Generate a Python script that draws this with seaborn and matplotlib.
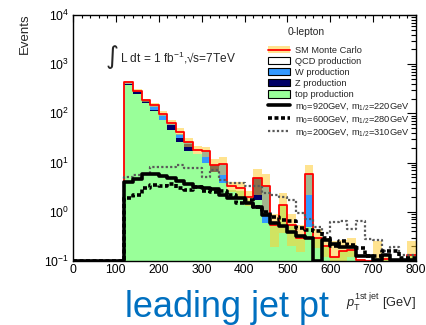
import numpy as np
import pandas as pd
import seaborn as sns
import matplotlib.pyplot as plt
from matplotlib.patches import Patch
from matplotlib.lines import Line2D
from matplotlib.ticker import MultipleLocator, LogLocator, NullFormatter


#--------------------------------   Data (events per 20 GeV bin)   --------------------------------

# SM backgrounds, bins from 120 to 800 GeV
bkg_pt = np.arange(130, 800, 20)
top_prod = [370, 250, 164, 110, 72, 47, 26, 17, 15, 9.6, 6.5, 3.8, 2.8, 2.6, 1.7,
            1.75, 0.6, 0.55, 1.38, 0.55, 0.3, 0.5, 0.3, 0.2, 0.12, 0.16, 0.17,
            0.105, 0.1, 0.1, 0.11, 0.105, 0.1, 0.13]
z_prod = [20, 30, 15, 5, 3, 10, 6, 7, 0, 0, 2.4, 0, 0, 0, 0,
          3.05, 0, 0, 0, 0, 0, 0, 0, 0, 0, 0, 0, 0, 0, 0, 0, 0, 0, 0]
w_prod = [40, 10, 4, 25, 16, 3, 6, 1, 0, 7, 0, 5.4, 0, 0, 0,
          0, 2.8, 0, 0, 0, 0, 5.5, 0, 0, 0, 0, 0, 0, 0, 0, 0, 0, 0, 0]
qcd_prod = [5, 0, 0, 10, 8, 5, 4, 1, 3, 0.4, 0, 0, 0.6, 0.4, 0.3,
            0, 0, 0, 0, 0, 0, 0, 0, 0, 0, 0, 0, 0, 0, 0, 0, 0, 0, 0]

# SM Monte Carlo uncertainty band (lower / upper edge)
band_lo = [405, 270, 168, 137, 88, 57, 36, 21, 15, 13, 6.5, 5.5, 2.5, 2.0, 1.3,
           2.2, 0.9, 0.19, 0.37, 0.2, 0.15, 2.2, 0.18, 0.12, 0.1, 0.1, 0.12,
           0.1, 0.1, 0.1, 0.1, 0.1, 0.1, 0.1]
band_hi = [465, 310, 200, 165, 112, 73, 50, 31, 22, 21, 11.7, 12.7, 4.1, 4.1, 2.6,
           7.3, 6.0, 0.9, 2.4, 0.9, 0.55, 8.9, 0.45, 0.3, 0.25, 0.27, 0.3,
           0.11, 0.1, 0.25, 0.12, 0.11, 0.1, 0.25]

# signal points, bins from 0 to 800 GeV
sig_pt = np.arange(10, 800, 20)
sig_920_220 = [0.1, 0.1, 0.1, 0.1, 0.1, 0.1,
               4.1, 4.6, 5.8, 5.8, 5.3, 4.8, 4.3, 3.7, 3.2, 3.0, 2.9, 2.2, 1.9, 1.9,
               1.5, 1.28, 0.85, 0.6, 0.52, 0.38, 0.32, 0.3, 0.1, 0.27, 0.22, 0.19,
               0.19, 0.125, 0.125, 0.105, 0.13, 0.105, 0.105, 0.105]
sig_600_280 = [0.1, 0.1, 0.1, 0.1, 0.1, 0.1,
               1.9, 2.2, 3.0, 3.5, 3.3, 3.7, 3.0, 2.8, 3.2, 2.7, 2.5, 2.6, 2.2, 1.5,
               1.75, 1.28, 1.0, 0.8, 0.69, 0.64, 0.47, 0.43, 0.4, 0.3, 0.2, 0.25,
               0.215, 0.185, 0.125, 0.125, 0.16, 0.16, 0.116, 0.116]
sig_200_310 = [0.1, 0.1, 0.1, 0.1, 0.1, 0.1,
               5.2, 5.6, 6.0, 8.2, 8.2, 8.0, 8.9, 7.6, 7.6, 5.2, 7.1, 4.4, 3.8, 3.8,
               3.3, 3.3, 2.4, 2.2, 2.04, 1.75, 0.95, 0.7, 0.5, 0.37, 0.62, 0.64,
               0.45, 0.66, 0.28, 0.27, 0.16, 0.19, 0.13, 0.13]

procs = ['QCD production', 'W production', 'Z production', 'top production']
proc_colors = ['white', '#3399ff', '#000066', '#99ff99']

bkg = pd.DataFrame({
    'pt': np.tile(bkg_pt, 4),
    'events': qcd_prod + w_prod + z_prod + top_prod,
    'process': np.repeat(procs, len(bkg_pt)),
})

bkg_edges = list(range(100, 820, 20))
sm_edges = np.arange(120, 820, 20)
sig_edges = list(range(0, 820, 20))


#--------------------------------   Plot   --------------------------------

sns.set_style("white")
plt.rcParams['font.family'] = ['Liberation Sans', 'DejaVu Sans']
plt.rcParams['mathtext.fontset'] = 'custom'
plt.rcParams['mathtext.rm'] = 'Liberation Sans'
plt.rcParams['mathtext.it'] = 'Liberation Sans:italic'
plt.rcParams['mathtext.bf'] = 'Liberation Sans:bold'

fig = plt.figure(figsize=(4.27, 3.25), dpi=100)
ax = fig.add_axes([73/427, 64/325, 343/427, 246/325])

# stacked backgrounds (top at the bottom, QCD on top)
sns.histplot(data=bkg, x='pt', weights='events', hue='process', hue_order=procs,
             multiple='stack', element='step', bins=bkg_edges,
             palette=dict(zip(procs, proc_colors)), alpha=1, linewidth=0,
             legend=False, ax=ax)

# uncertainty band
ax.stairs(band_hi, sm_edges, baseline=band_lo, fill=True,
          color='#ffcc33', alpha=0.55, linewidth=0)

# SM total
sns.histplot(data=bkg, x='pt', weights='events', bins=bkg_edges,
             element='step', fill=False, color='red', linewidth=1.3, ax=ax)

# signal lines
sns.histplot(x=sig_pt, weights=sig_200_310, bins=sig_edges, element='step', fill=False,
             color='0.35', linewidth=1.6, linestyle=(0, (1, 1)), ax=ax)
sns.histplot(x=sig_pt, weights=sig_600_280, bins=sig_edges, element='step', fill=False,
             color='black', linewidth=2.6, linestyle=(0, (1.1, 0.7)), ax=ax)
sns.histplot(x=sig_pt, weights=sig_920_220, bins=sig_edges, element='step', fill=False,
             color='black', linewidth=2.6, ax=ax)

ax.set_yscale('log')
ax.set_xlim(0, 800)
ax.set_ylim(0.1, 1e4)
ax.set_xlabel('')
ax.set_ylabel('')

ax.xaxis.set_major_locator(MultipleLocator(100))
ax.xaxis.set_minor_locator(MultipleLocator(20))
ax.yaxis.set_major_locator(LogLocator(base=10, numticks=10))
ax.yaxis.set_minor_locator(LogLocator(base=10, subs=np.arange(2, 10), numticks=20))
ax.yaxis.set_minor_formatter(NullFormatter())
ax.tick_params(which='both', direction='in', top=True, right=True,
               labelsize=8.8, width=0.8, colors='black')
ax.tick_params(axis='x', which='major', length=5, pad=2)
ax.tick_params(axis='x', which='minor', length=2.5)
ax.tick_params(axis='y', which='major', length=6.5, pad=3)
ax.tick_params(axis='y', which='minor', length=3.5)
for s in ax.spines.values():
    s.set_color('black')
    s.set_linewidth(1)

# legend
handles = [
    (Patch(facecolor='#ffcc33', alpha=0.55, linewidth=0), Line2D([], [], color='red', lw=1.3)),
    Patch(facecolor='white', edgecolor='black', linewidth=0.8),
    Patch(facecolor='#3399ff', edgecolor='black', linewidth=0.8),
    Patch(facecolor='#000066', edgecolor='black', linewidth=0.8),
    Patch(facecolor='#99ff99', edgecolor='black', linewidth=0.8),
    Line2D([], [], color='black', lw=2.6),
    Line2D([], [], color='black', lw=2.6, ls=(0, (1.1, 0.7))),
    Line2D([], [], color='0.35', lw=1.6, ls=(0, (1, 1))),
]
labels = ['SM Monte Carlo'] + procs + [
    r'm$_0$=920GeV, m$_{1/2}$=220GeV',
    r'm$_0$=600GeV, m$_{1/2}$=280GeV',
    r'm$_0$=200GeV, m$_{1/2}$=310GeV',
]
ax.legend(handles, labels, loc='upper left', bbox_to_anchor=(268/427, 1 - 46/325),
          bbox_transform=fig.transFigure, frameon=False, fontsize=6.7,
          handlelength=2.4, handleheight=0.8, labelspacing=0.22,
          handletextpad=0.5, borderpad=0, borderaxespad=0)

# texts
fig.text(306/427, 1 - 32/325, '0-lepton', fontsize=7.4, ha='center', va='center')
fig.text(119/427, 1 - 57/325, '\u222b', fontsize=18, ha='right', va='center',
         family=['DejaVu Sans'])
fig.text(120/427, 1 - 63/325, 'L dt = 1 fb$^{-1}$,\u221as=7TeV', fontsize=8.6,
         ha='left', va='baseline')
fig.text(25/427, 1 - 13/325, 'Events', fontsize=9.5, rotation=90, ha='center', va='top')
fig.text(416/427, 1 - 307/325, r'$p_{\rm T}^{\rm 1st\ jet}$ [GeV]', fontsize=9.3,
         ha='right', va='baseline')
fig.text(125/427, 1 - 317/325, 'leading jet pt', fontsize=26, color='#0070c0',
         ha='left', va='baseline')

fig.savefig('out.png', dpi=100)
plt.close()
